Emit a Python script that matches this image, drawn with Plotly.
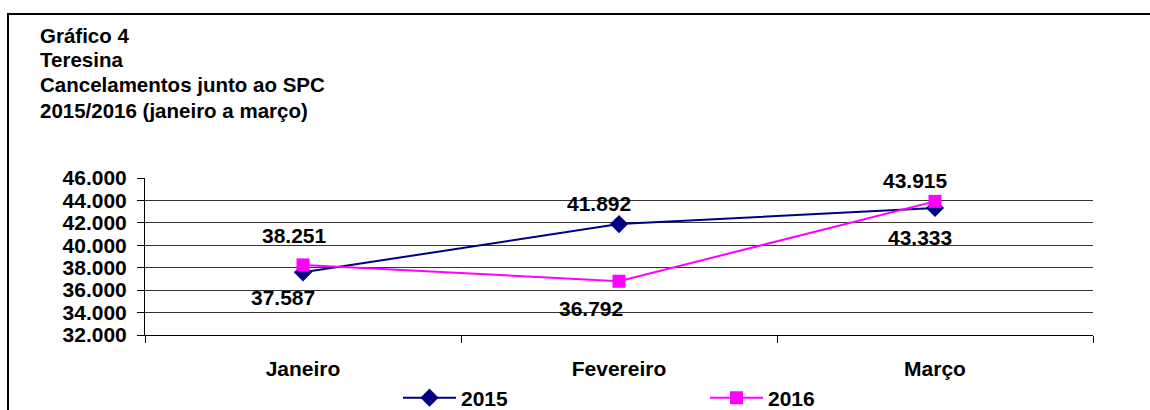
import plotly.graph_objects as go

# Data
months = ["Janeiro", "Fevereiro", "Março"]
cancel_2015 = [37587, 41892, 43333]
cancel_2016 = [38251, 36792, 43915]
title_lines = ["Gráfico 4", "Teresina", "Cancelamentos junto ao SPC", "2015/2016 (janeiro a março)"]

FONT = "Liberation Sans, Arial, sans-serif"
W, H = 1150, 410
L, R, T, B = 145, 57, 178, 75
PW, PH = W - L - R, H - T - B


def px_x(px):
    return (px - L) / PW


def px_y(py):
    return (H - B - py) / PH


fig = go.Figure()
fig.add_trace(go.Scatter(
    x=months, y=cancel_2015, name="<b>2015</b>", mode="lines+markers",
    line=dict(color="#000080", width=2),
    marker=dict(symbol="diamond", size=14, color="#000080"),
))
fig.add_trace(go.Scatter(
    x=months, y=cancel_2016, name="<b>2016</b>", mode="lines+markers",
    line=dict(color="#FF00FF", width=2),
    marker=dict(symbol="square", size=13, color="#FF00FF"),
))

# value labels (pixel offsets from each point)
label_offsets_2015 = [(-20, -25), (-20, 21), (-15, -30)]
label_offsets_2016 = [(-9, 29), (-28, -27), (-20, 21)]
annotations = []
for vals, offs in ((cancel_2015, label_offsets_2015), (cancel_2016, label_offsets_2016)):
    for m, v, (dx, dy) in zip(months, vals, offs):
        annotations.append(dict(
            x=m, y=v, xref="x", yref="y",
            text="<b>" + f"{v:,}".replace(",", ".") + "</b>",
            showarrow=False, xshift=dx, yshift=dy,
            font=dict(family=FONT, size=21, color="black"),
        ))

title_y = [35, 60, 85, 110]
for line, py in zip(title_lines, title_y):
    annotations.append(dict(
        x=px_x(38), y=px_y(py), xref="paper", yref="paper",
        xanchor="left", yanchor="middle", text=f"<b>{line}</b>",
        showarrow=False, font=dict(family=FONT, size=20.5, color="black"),
    ))

# frame: top and left edges, running off the figure
frame = [
    dict(type="line", xref="paper", yref="paper",
         x0=px_x(7), x1=px_x(1200), y0=px_y(14), y1=px_y(14),
         line=dict(color="black", width=2), layer="below"),
    dict(type="line", xref="paper", yref="paper",
         x0=px_x(8), x1=px_x(8), y0=px_y(13), y1=px_y(440),
         line=dict(color="black", width=2), layer="below"),
]

fig.update_layout(
    width=W, height=H,
    margin=dict(l=L, r=R, t=T, b=B, pad=0, autoexpand=False),
    paper_bgcolor="white", plot_bgcolor="white",
    separators=",.",
    font=dict(family=FONT, size=21, color="black"),
    showlegend=True,
    legend=dict(
        orientation="h", x=px_x(398), y=px_y(398), xanchor="left", yanchor="middle",
        itemwidth=53, entrywidth=239, font=dict(family=FONT, size=21, color="black"),
        bgcolor="rgba(0,0,0,0)",
    ),
    annotations=annotations,
    shapes=frame,
)

fig.update_xaxes(
    type="category", range=[-0.5, 2.5], tickson="boundaries",
    ticks="outside", ticklen=7, tickcolor="black", tickwidth=1,
    showline=True, linecolor="black", linewidth=1, showgrid=False,
    tickfont=dict(family=FONT, size=21, color="black"), ticklabelstandoff=15,
    tickprefix="<b>", ticksuffix="</b>",
)
fig.update_yaxes(
    range=[32000, 46000], dtick=2000, tickformat=",.0f",
    ticks="outside", ticklen=7, tickcolor="black", tickwidth=1,
    showline=True, linecolor="black", linewidth=1,
    showgrid=True, gridcolor="#333333", gridwidth=1,
    tickfont=dict(family=FONT, size=21, color="black"), ticklabelstandoff=6,
    tickprefix="<b>", ticksuffix="</b>",
)

fig.write_html("out.html")
